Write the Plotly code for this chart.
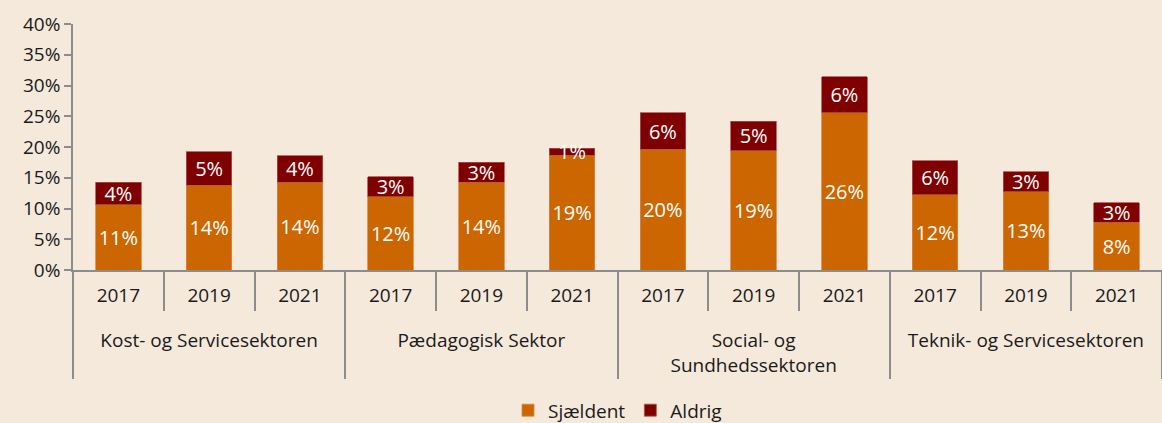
import plotly.graph_objects as go

sectors = ["Kost- og Servicesektoren"] * 3 + ["Pædagogisk Sektor"] * 3 + \
          ["Social- og<br>Sundhedssektoren"] * 3 + ["Teknik- og Servicesektoren"] * 3
years = ["2017", "2019", "2021"] * 4
sjaeldent = [10.6, 13.8, 14.3, 11.9, 14.3, 18.7, 19.6, 19.4, 25.6, 12.2, 12.7, 7.8]
aldrig = [3.7, 5.4, 4.3, 3.3, 3.2, 1.1, 6.0, 4.8, 5.8, 5.6, 3.3, 3.1]
y_ticks = [0, 5, 10, 15, 20, 25, 30, 35, 40]

FONT = "Open Sans"
BG = "#F5E9DC"
sector_labels = ["<br>" + s for s in sectors]

fig = go.Figure()
fig.add_trace(go.Bar(
    x=[sector_labels, years], y=sjaeldent, name="Sjældent",
    marker=dict(color="#CC6600", line=dict(color="#D9844A", width=0.8)),
    texttemplate="%{y:.0f}%", textposition="inside", insidetextanchor="middle",
    constraintext="none", textangle=0,
    textfont=dict(color="white", size=20, family=FONT),
))
fig.add_trace(go.Bar(
    x=[sector_labels, years], y=aldrig, name="Aldrig",
    marker=dict(color="#7F0000", line=dict(color="#B05050", width=0.8)),
    texttemplate="%{y:.0f}%", textposition="inside", insidetextanchor="middle",
    constraintext="none", textangle=0,
    textfont=dict(color="white", size=20, family=FONT),
))
fig.update_layout(
    barmode="stack", bargap=0.5,
    width=1162, height=423,
    margin=dict(l=73, r=0, t=24, b=153, autoexpand=False),
    paper_bgcolor=BG, plot_bgcolor=BG,
    font=dict(family=FONT, size=19, color="#1a1a1a"),
    legend=dict(orientation="h", x=0.5, xanchor="center",
                yref="container", y=0.03, yanchor="middle",
                font=dict(size=19), itemwidth=30, traceorder="normal"),
    showlegend=True,
)
fig.update_yaxes(
    range=[0, 40], tickmode="array", tickvals=y_ticks,
    ticktext=[f"{v}%" for v in y_ticks], automargin=False,
    showgrid=False, showline=True, linecolor="#8c8c8c", linewidth=1.5,
    ticks="outside", ticklen=7, tickcolor="#8c8c8c", tickwidth=1.5,
    tickfont=dict(size=19), zeroline=False,
)
fig.update_xaxes(
    type="multicategory", showline=True, linecolor="#8c8c8c", linewidth=1.5,
    ticks="outside", tickson="boundaries", ticklen=39, tickcolor="#8c8c8c", tickwidth=1.5,
    dividercolor="#8c8c8c", dividerwidth=1.5, showdividers=True, automargin=False,
    tickfont=dict(size=19), showgrid=False, ticklabelstandoff=7,
)
fig.write_html(
    "out.html",
    config={"displayModeBar": False},
    post_script=f"document.body.style.margin='0';document.body.style.background='{BG}';",
)
